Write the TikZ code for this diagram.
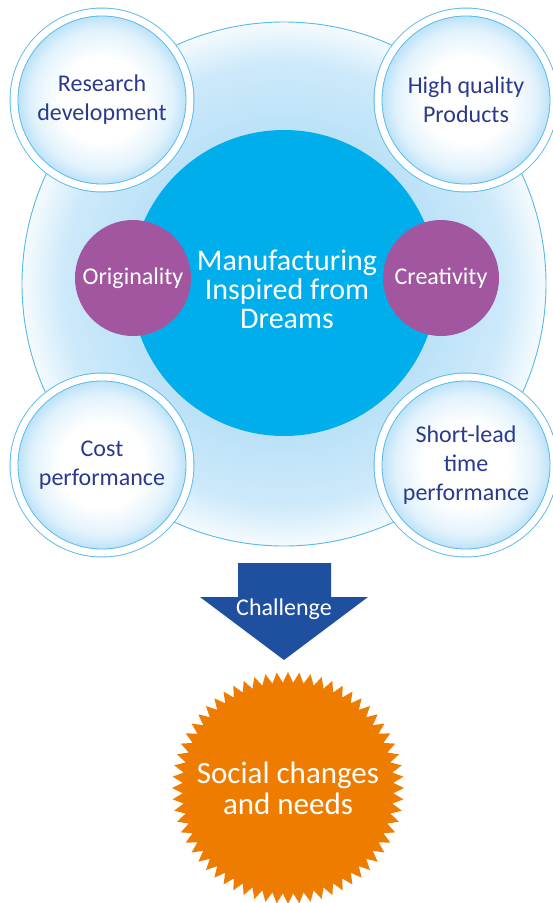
\documentclass[tikz,border=0pt]{standalone}
\usepackage{fontspec}
\setmainfont{Carlito}
\usetikzlibrary{shapes.geometric,positioning}

\definecolor{ringBlue}{RGB}{84,184,232}
\definecolor{paleBlue}{RGB}{188,226,248}
\definecolor{coreBlue}{RGB}{0,174,235}
\definecolor{dreamPurple}{RGB}{162,86,160}
\definecolor{labelNavy}{RGB}{43,58,140}
\definecolor{arrowBlue}{RGB}{31,80,160}
\definecolor{burstOrange}{RGB}{238,124,0}

\pgfdeclareradialshading{haloShade}{\pgfpoint{0bp}{0bp}}{color(0bp)=(paleBlue); color(15bp)=(paleBlue); color(21bp)=(paleBlue!75!white); color(25bp)=(paleBlue!15!white); color(50bp)=(paleBlue!15!white)}
\pgfdeclareradialshading{bubbleShade}{\pgfpoint{0bp}{0bp}}{color(0bp)=(white); color(12bp)=(white); color(20bp)=(paleBlue!45!white); color(24bp)=(paleBlue); color(50bp)=(paleBlue)}

\tikzset{
  halo/.style={circle, draw=ringBlue, line width=0.9pt, shading=haloShade,
               minimum size=524pt, inner sep=0pt},
  core/.style={circle, fill=coreBlue, minimum size=306pt, inner sep=0pt},
  coreText/.style={text=white, align=center, font=\fontsize{30}{29}\selectfont},
  bubble/.style={circle, draw=ringBlue, line width=0.9pt, double=white,
                 double distance=7pt, shading=bubbleShade, minimum size=176pt,
                 inner sep=0pt, text=labelNavy, align=center,
                 font=\fontsize{24}{29}\selectfont},
  dot/.style={circle, fill=dreamPurple, minimum size=116pt, inner sep=0pt,
              text=white, font=\fontsize{24}{28}\selectfont},
  burst/.style={star, star points=64, star point ratio=1.1, fill=burstOrange,
                minimum size=232pt, inner sep=0pt}
}

\begin{document}
\begin{tikzpicture}[x=1pt, y=-1pt]
\useasboundingbox (0,0) rectangle (553,903);

% Outer halo and core
\node[halo] (halo) at (284,284) {};
\node[core] (core) at (284,283) {};

% Corner bubbles
\node[bubble] (research) at (102,100) {Research\\development};
\node[bubble] (quality) at (466,100) {High quality\\Products};
\node[bubble] (cost) at (102,465) {Cost\\performance};
\node[bubble] (lead) at (466,465) {Short-lead\\time\\performance};

% Purple dots
\node[dot] (orig) at (133,278) {Originality};
\node[dot] (creat) at (441,278) {Creativity};

% Core text
\node[coreText] (dream) at (287,289) {Manufacturing\\Inspired from\\Dreams};

% Challenge arrow
\fill[arrowBlue] (238,563) -- (331,563) -- (331,597) -- (368,597)
  -- (284,660) -- (200,597) -- (238,597) -- cycle;
\node[text=white, font=\fontsize{24}{28}\selectfont] (challenge) at (284,609) {Challenge};

% Social burst
\node[burst] (social) at (288,788) {};
\node[text=white, align=center, font=\fontsize{31}{31}\selectfont] (needs) at (social)
  {Social changes\\and needs};

\end{tikzpicture}
\end{document}
